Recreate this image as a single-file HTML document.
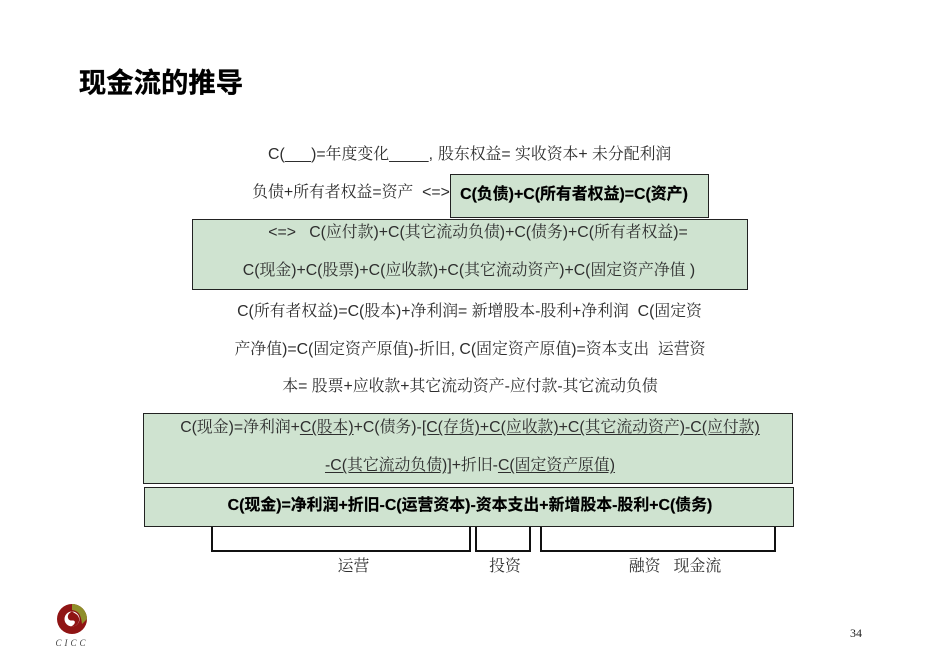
<!DOCTYPE html>
<html><head><meta charset="utf-8">
<style>
html,body{margin:0;padding:0;background:#fff}
#p{position:relative;width:929px;height:664px;overflow:hidden;background:#fff;font-family:"Liberation Sans","Noto Serif CJK SC",serif;font-size:15.85px;color:#2e2e2e}
.t{position:absolute;white-space:pre;line-height:20px;height:20px;text-align:center;transform:translateX(-50%)}
.l{position:absolute;white-space:pre;line-height:20px;height:20px}
.b{position:absolute;box-sizing:border-box;background:#cfe3d0;border:1px solid #222}
.bd{font-weight:bold;color:#000;font-size:15.9px;-webkit-text-stroke:.2px #000;font-family:"Liberation Sans","Noto Sans CJK SC",sans-serif}
u{text-underline-offset:2px}
.br{position:absolute;box-sizing:border-box;border:2px solid #111;border-top:none}
</style></head><body><div id="p">
<div class="t" style="left:161px;top:69px;height:28px;line-height:28px;font-size:27.4px;font-weight:bold;color:#000;-webkit-text-stroke:.3px #000;font-family:'Liberation Sans','Noto Sans CJK SC',sans-serif">现金流的推导</div>

<div class="l" style="left:268px;top:145px">C(<u>&nbsp;&nbsp;&nbsp;&nbsp;&nbsp;&nbsp;</u>)=年度变化<u>&nbsp;&nbsp;&nbsp;&nbsp;&nbsp;&nbsp;&nbsp;&nbsp;&nbsp;</u>,</div>
<div class="l" style="left:438px;top:145px">股东权益= 实收资本+ 未分配利润</div>
<div class="t" style="left:351px;top:183px">负债+所有者权益=资产  &lt;=&gt;</div>

<div class="b" style="left:450px;top:174px;width:259px;height:44px"></div>
<div class="t bd" style="left:574px;top:185px">C(负债)+C(所有者权益)=C(资产)</div>

<div class="b" style="left:192px;top:219px;width:556px;height:71px"></div>
<div class="t" style="left:478px;top:223px">&lt;=&gt;   C(应付款)+C(其它流动负债)+C(债务)+C(所有者权益)=</div>
<div class="t" style="left:469px;top:261px">C(现金)+C(股票)+C(应收款)+C(其它流动资产)+C(固定资产净值 )</div>

<div class="t" style="left:469.5px;top:302px">C(所有者权益)=C(股本)+净利润= 新增股本-股利+净利润  C(固定资</div>
<div class="t" style="left:470px;top:340px">产净值)=C(固定资产原值)-折旧, C(固定资产原值)=资本支出  运营资</div>
<div class="t" style="left:470px;top:377px">本= 股票+应收款+其它流动资产-应付款-其它流动负债</div>

<div class="b" style="left:143px;top:413px;width:650px;height:71px"></div>
<div class="t" style="left:470px;top:418px">C(现金)=净利润+<u>C(股本)</u>+C(债务)-<u>[C(存货)+C(应收款)+C(其它流动资产)-C(应付款)</u></div>
<div class="t" style="left:470px;top:456px"><u>-C(其它流动负债)]</u>+折旧-<u>C(固定资产原值)</u></div>

<div class="b" style="left:144px;top:487px;width:650px;height:40px"></div>
<div class="t bd" style="left:470px;top:496px">C(现金)=净利润+折旧-C(运营资本)-资本支出+新增股本-股利+C(债务)</div>

<div class="br" style="left:211px;top:527px;width:260px;height:25px"></div>
<div class="br" style="left:475px;top:527px;width:56px;height:25px"></div>
<div class="br" style="left:540px;top:527px;width:236px;height:25px"></div>

<div class="t" style="left:353.5px;top:557px">运营</div>
<div class="t" style="left:505px;top:557px">投资</div>
<div class="t" style="left:675px;top:557px">融资   现金流</div>

<svg style="position:absolute;left:54px;top:602px" width="36" height="48" viewBox="0 0 36 48">
<circle cx="18" cy="17" r="15" fill="#8f1414"/>
<path d="M18 2A15 15 0 0 1 33 17L28 22C27 13 25 9 18 8Z" fill="#8f8f2a"/>
<circle cx="18" cy="17" r="7.5" fill="#fff"/>
<path d="M18 9.5C12 12 13 19 18 18.5C22 18 22 22 17 24.5C25 25 28 16 22 12Z" fill="#8f1414"/>
</svg>
<div class="t" style="left:72px;top:636px;height:14px;line-height:14px;font-size:9px;font-style:italic;letter-spacing:3px;font-family:'Liberation Serif',serif;color:#444">CICC</div>
<div class="t" style="left:856px;top:624px;height:18px;line-height:18px;font-size:12px;font-family:'Liberation Serif',serif;color:#222">34</div>
</div></body></html>
